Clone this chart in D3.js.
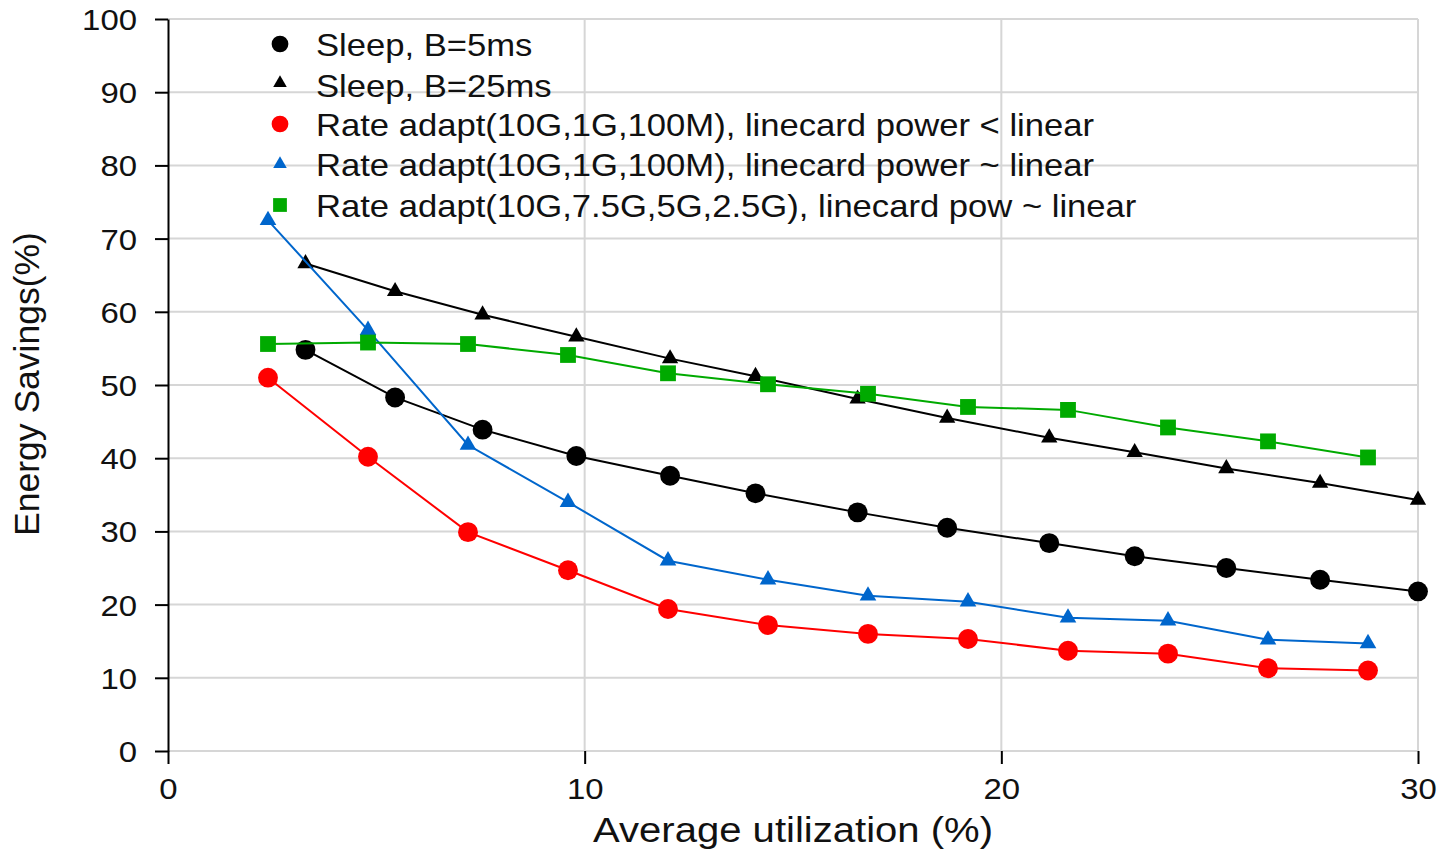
<!DOCTYPE html>
<html lang="en">
<head>
    <meta charset="UTF-8">
    <title>Energy savings</title>
    <script src="https://cdn.jsdelivr.net/npm/d3@7"></script>
    <style>
        body {
            margin: 0;
            padding: 0;
            background-color: white;
        }

        svg {
            display: block;
            font-family: "Liberation Sans", Arial, Helvetica, sans-serif;
        }
    </style>
</head>
<body>
    <div id="chart"></div>
    <script>
        // utilization (%) where each run was measured
        const sleepUtil = [3.3, 5.45, 7.55, 9.8, 12.05, 14.1, 16.55, 18.7, 21.15, 23.2, 25.4, 27.65, 30.0]
        const rateUtil = [2.4, 4.8, 7.2, 9.6, 12.0, 14.4, 16.8, 19.2, 21.6, 24.0, 26.4, 28.8]

        // energy savings (%)
        const sleep5 = [54.8, 48.3, 43.9, 40.3, 37.6, 35.2, 32.6, 30.5, 28.4, 26.6, 25.0, 23.4, 21.8]
        const sleep25 = [66.6, 62.8, 59.6, 56.6, 53.6, 51.2, 48.1, 45.5, 42.8, 40.8, 38.6, 36.6, 34.3]
        const rateSub = [51.0, 40.2, 29.9, 24.7, 19.4, 17.2, 16.0, 15.3, 13.7, 13.3, 11.3, 11.0]
        const rateLin = [72.5, 57.5, 41.8, 34.0, 26.0, 23.4, 21.2, 20.4, 18.2, 17.8, 15.2, 14.7]
        const rateFour = [55.6, 55.8, 55.6, 54.1, 51.6, 50.1, 48.8, 47.0, 46.6, 44.2, 42.3, 40.1]

        const seriesNames = [
            'Sleep, B=5ms',
            'Sleep, B=25ms',
            'Rate adapt(10G,1G,100M), linecard power < linear',
            'Rate adapt(10G,1G,100M), linecard power ~ linear',
            'Rate adapt(10G,7.5G,5G,2.5G), linecard pow ~ linear'
        ]

        const xTicks = [0, 10, 20, 30]
        const yTicks = [0, 10, 20, 30, 40, 50, 60, 70, 80, 90, 100]

        const w = 1441
        const h = 851
        const padL = 168, padR = 1418, padT = 19, padB = 751
        const stretch = 1.135

        const series = [
            { name: seriesNames[0], xs: sleepUtil, ys: sleep5, color: '#000000', sym: d3.symbolCircle, size: 310, lsize: 220 },
            { name: seriesNames[1], xs: sleepUtil, ys: sleep25, color: '#000000', sym: d3.symbolTriangle, size: 115, lsize: 80 },
            { name: seriesNames[2], xs: rateUtil, ys: rateSub, color: '#ff0000', sym: d3.symbolCircle, size: 310, lsize: 220 },
            { name: seriesNames[3], xs: rateUtil, ys: rateLin, color: '#0066cc', sym: d3.symbolTriangle, size: 120, lsize: 80 },
            { name: seriesNames[4], xs: rateUtil, ys: rateFour, color: '#00aa00', sym: d3.symbolSquare, size: 250, lsize: 190 }
        ]

        const xScale = d3.scaleLinear().domain([0, 30]).range([padL, padR])
        const yScale = d3.scaleLinear().domain([0, 100]).range([padB, padT])

        const svg = d3.select('#chart')
            .append('svg')
            .attr('width', w)
            .attr('height', h)

        // grid
        svg.append('g')
            .selectAll('line')
            .data(yTicks)
            .enter()
            .append('line')
            .attr('x1', padL)
            .attr('x2', padR)
            .attr('y1', d => yScale(d))
            .attr('y2', d => yScale(d))
            .attr('stroke', '#d6d6d6')
            .attr('stroke-width', 2)

        svg.append('g')
            .selectAll('line')
            .data(xTicks.slice(1))
            .enter()
            .append('line')
            .attr('x1', d => xScale(d))
            .attr('x2', d => xScale(d))
            .attr('y1', padT)
            .attr('y2', padB)
            .attr('stroke', '#d6d6d6')
            .attr('stroke-width', 2)

        // lines and markers
        const line = d3.line()
            .x(d => xScale(d[0]))
            .y(d => yScale(d[1]))

        series.forEach(s => {
            const pts = s.xs.map((x, i) => [x, s.ys[i]])
            svg.append('path')
                .datum(pts)
                .attr('d', line)
                .attr('fill', 'none')
                .attr('stroke', s.color)
                .attr('stroke-width', 2)

            svg.append('g')
                .selectAll('path')
                .data(pts)
                .enter()
                .append('path')
                .attr('d', d3.symbol().type(s.sym).size(s.size))
                .attr('transform', d => `translate(${xScale(d[0])},${yScale(d[1])})`)
                .attr('fill', s.color)
        })

        // axes
        const yAxis = d3.axisLeft(yScale)
            .tickValues(yTicks)
            .tickSize(13)
            .tickSizeOuter(0)
            .tickPadding(0)

        const gy = svg.append('g')
            .attr('transform', `translate(${padL},0)`)
            .call(yAxis)
        gy.select('.domain').attr('stroke', '#000').attr('stroke-width', 2)
        gy.selectAll('.tick line').attr('stroke', '#000').attr('stroke-width', 2)
        gy.selectAll('.tick text')
            .attr('x', null)
            .attr('dy', '0.36em')
            .attr('transform', `translate(-31,0) scale(${stretch},1)`)
            .attr('font-size', 29)
            .attr('fill', '#111')
        gy.attr('font-family', null).attr('font-size', null)

        const xAxis = d3.axisBottom(xScale)
            .tickValues(xTicks)
            .tickSize(13)
            .tickSizeOuter(0)
            .tickPadding(0)

        const gx = svg.append('g')
            .attr('transform', `translate(0,${padB})`)
            .call(xAxis)
        gx.select('.domain').remove()
        gx.selectAll('.tick line').attr('stroke', '#000').attr('stroke-width', 2)
        gx.selectAll('.tick text')
            .attr('y', null)
            .attr('dy', null)
            .attr('transform', `translate(0,48) scale(${stretch},1)`)
            .attr('font-size', 29)
            .attr('fill', '#111')
        gx.attr('font-family', null).attr('font-size', null)

        // axis titles
        svg.append('text')
            .attr('transform', `translate(${(padL + padR) / 2},842) scale(${stretch},1)`)
            .attr('text-anchor', 'middle')
            .attr('font-size', 35.3)
            .attr('fill', '#111')
            .text('Average utilization (%)')

        svg.append('text')
            .attr('transform', 'translate(39,384) rotate(-90)')
            .attr('text-anchor', 'middle')
            .attr('font-size', 35.5)
            .attr('fill', '#111')
            .text('Energy Savings(%)')

        // legend
        const legendY = [44, 83, 124, 164, 205]
        const legend = svg.append('g')
            .selectAll('g')
            .data(series)
            .enter()
            .append('g')
            .attr('transform', (d, i) => `translate(280,${legendY[i]})`)

        legend.append('path')
            .attr('d', d => d3.symbol().type(d.sym).size(d.lsize)())
            .attr('fill', d => d.color)

        legend.append('text')
            .attr('transform', (d, i) => `translate(36,${i === 1 ? 14 : 12}) scale(${stretch},1)`)
            .attr('font-size', 30.5)
            .attr('fill', '#111')
            .text(d => d.name)
    </script>
</body>
</html>
